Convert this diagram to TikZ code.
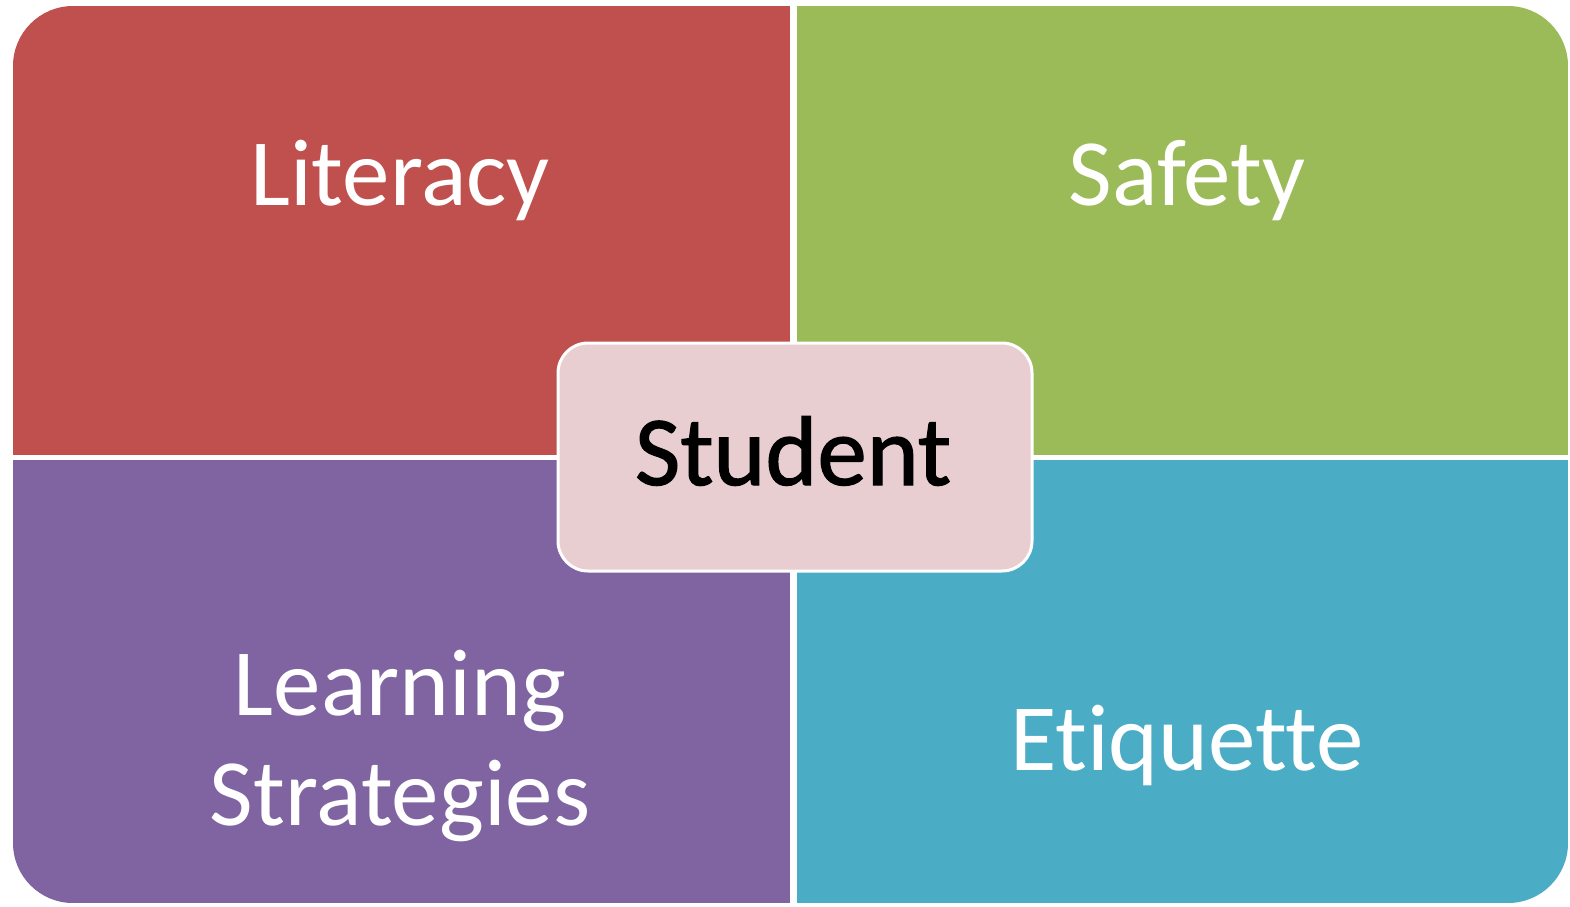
\documentclass[tikz,border=0pt]{standalone}
\usepackage{fontspec}
\setmainfont[Ligatures={NoCommon,NoContextual}]{Carlito}
\definecolor{qred}{HTML}{C0504D}
\definecolor{qgreen}{HTML}{9BBB59}
\definecolor{qpurple}{HTML}{8064A2}
\definecolor{qblue}{HTML}{4BACC6}
\definecolor{qpink}{HTML}{E8CED0}
\tikzset{
  quad/.style={rectangle, inner sep=0pt, outer sep=0pt, draw=none},
  qlabel/.style={text=white, font=\fontsize{95}{105}\selectfont, inner sep=0pt, align=center},
}
\begin{document}
\begin{tikzpicture}[x=1pt,y=-1pt]
\useasboundingbox (0,0) rectangle (1570,906);
\fill[white] (0,0) rectangle (1570,906);
\begin{scope}
\clip[rounded corners=60pt] (13,6) rectangle (1568,903);
\node[quad, fill=qred, anchor=north west, minimum width=777pt, minimum height=449pt] (lit) at (13,6) {};
\node[quad, fill=qgreen, anchor=north west, minimum width=771pt, minimum height=449pt] (saf) at (797,6) {};
\node[quad, fill=qpurple, anchor=north west, minimum width=777pt, minimum height=443pt] (lea) at (13,460) {};
\node[quad, fill=qblue, anchor=north west, minimum width=771pt, minimum height=443pt] (eti) at (797,460) {};
\end{scope}
\node[qlabel, anchor=base] (tlit) at (400,205) {Literacy};
\node[qlabel, anchor=base] (tsaf) at (1187,205) {Safety};
\node[qlabel, anchor=base] (tlea1) at (400,715) {Learning};
\node[qlabel, anchor=base] (tlea2) at (400,825) {Strategies};
\node[qlabel, anchor=base] (teti) at (1187,770) {Etiquette};
\node[rectangle, rounded corners=30pt, fill=qpink, draw=white, line width=3pt,
      minimum width=474pt, minimum height=228pt, inner sep=0pt] (stu) at (795,457) {};
\node[text=black, draw=none, font=\fontsize{99}{110}\selectfont, anchor=base, inner sep=0pt] (tstu) at (793,485) {\addfontfeature{FakeBold=1.2}Student};
\end{tikzpicture}
\end{document}
